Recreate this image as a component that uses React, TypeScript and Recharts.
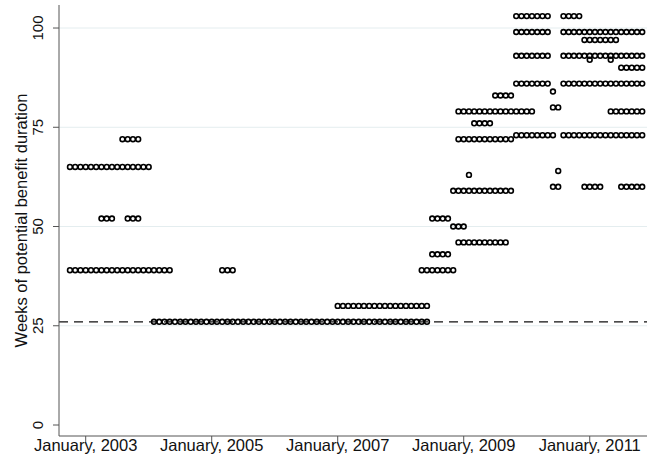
import React from 'react';
import { ScatterChart, Scatter, XAxis, YAxis, ReferenceLine } from 'recharts';

// month index: 0 = January 2003
const xTickMonths = [0, 24, 48, 72, 96];
const xTickLabels = ['January, 2003', 'January, 2005', 'January, 2007', 'January, 2009', 'January, 2011'];
const yTicks = [0, 25, 50, 75, 100];
const gridValues = [25, 50, 75, 100];
const baselineWeeks = 26;
const yTitle = 'Weeks of potential benefit duration';

// runs of identical values: [weeks, first month, last month]
const runs2002to2004: [number, number, number][] = [
  [65, -3, 12],
  [39, -3, 16],
  [52, 3, 5],
  [52, 8, 10],
  [72, 7, 10],
];
const runsRegular: [number, number, number][] = [
  [26, 13, 65],
  [39, 26, 28],
  [30, 48, 65],
];
const runs2008to2009: [number, number, number][] = [
  [39, 64, 70],
  [43, 66, 69],
  [52, 66, 69],
  [50, 70, 72],
  [46, 71, 80],
  [59, 70, 81],
  [63, 73, 73],
  [72, 71, 81],
  [76, 74, 77],
  [79, 71, 85],
  [83, 78, 81],
];
const runs2009to2011: [number, number, number][] = [
  [103, 82, 88],
  [103, 91, 94],
  [99, 82, 88],
  [99, 91, 106],
  [97, 95, 101],
  [93, 82, 88],
  [93, 91, 106],
  [92, 96, 96],
  [92, 100, 100],
  [90, 102, 106],
  [86, 82, 88],
  [86, 91, 106],
  [84, 89, 89],
  [80, 89, 90],
  [79, 100, 106],
  [73, 82, 89],
  [73, 91, 106],
  [64, 90, 90],
  [60, 89, 90],
  [60, 95, 98],
  [60, 102, 106],
];

const allRuns = [...runs2002to2004, ...runsRegular, ...runs2008to2009, ...runs2009to2011];
const points: { m: number; w: number }[] = [];
allRuns.forEach(([w, a, b]) => {
  for (let m = a; m <= b; m++) points.push({ m, w });
});

const FONT = '"Liberation Sans", Arial, Helvetica, sans-serif';

const Dot = (props: any) => (
  <circle cx={props.cx} cy={props.cy} r={2.4} fill="none" stroke="#000" strokeWidth={1.6} />
);

const XTick = (props: any) => {
  const { x, y, payload } = props;
  const i = xTickMonths.indexOf(payload.value);
  return (
    <text x={x} y={y + 7} textAnchor="middle" fontSize={16.5} fontFamily={FONT} fill="#111">
      {i >= 0 ? xTickLabels[i] : ''}
    </text>
  );
};

const YTick = (props: any) => {
  const { x, y, payload } = props;
  const bx = x - 7.5;
  return (
    <text x={bx} y={y} transform={`rotate(-90, ${bx}, ${y})`} textAnchor="middle" fontSize={15} fontFamily={FONT} fill="#111">
      {payload.value}
    </text>
  );
};

const YTitle = (props: any) => {
  const vb = props.viewBox || { y: 5, height: 431 };
  const cy = vb.y + vb.height / 2;
  return (
    <text x={26.5} y={cy} transform={`rotate(-90, 26.5, ${cy})`} textAnchor="middle" fontSize={16.5} fontFamily={FONT} fill="#111">
      {yTitle}
    </text>
  );
};

export default function App() {
  return (
    <div style={{ position: 'absolute', left: 0, top: 0, width: 647, height: 466, background: '#fff' }}>
      <ScatterChart width={647} height={466} margin={{ top: 5, right: 0, bottom: 0, left: 0 }}>
        <XAxis
          dataKey="m"
          type="number"
          domain={[-5.086, 106.91]}
          ticks={xTickMonths}
          allowDataOverflow
          height={30}
          tickSize={6}
          tick={<XTick />}
          axisLine={{ stroke: '#555', strokeWidth: 1 }}
          tickLine={{ stroke: '#555', strokeWidth: 1 }}
        />
        <YAxis
          dataKey="w"
          type="number"
          domain={[-2.77, 105.8]}
          ticks={yTicks}
          allowDataOverflow
          width={59}
          tickSize={6}
          tick={<YTick />}
          axisLine={{ stroke: '#555', strokeWidth: 1 }}
          tickLine={{ stroke: '#555', strokeWidth: 1 }}
          label={<YTitle />}
        />
        {gridValues.map((v) => (
          <ReferenceLine key={v} y={v} stroke="#e4edef" strokeWidth={1} />
        ))}
        <ReferenceLine y={baselineWeeks} stroke="#111" strokeWidth={1.3} strokeDasharray="9 6" />
        <Scatter data={points} shape={<Dot />} isAnimationActive={false} />
      </ScatterChart>
    </div>
  );
}
